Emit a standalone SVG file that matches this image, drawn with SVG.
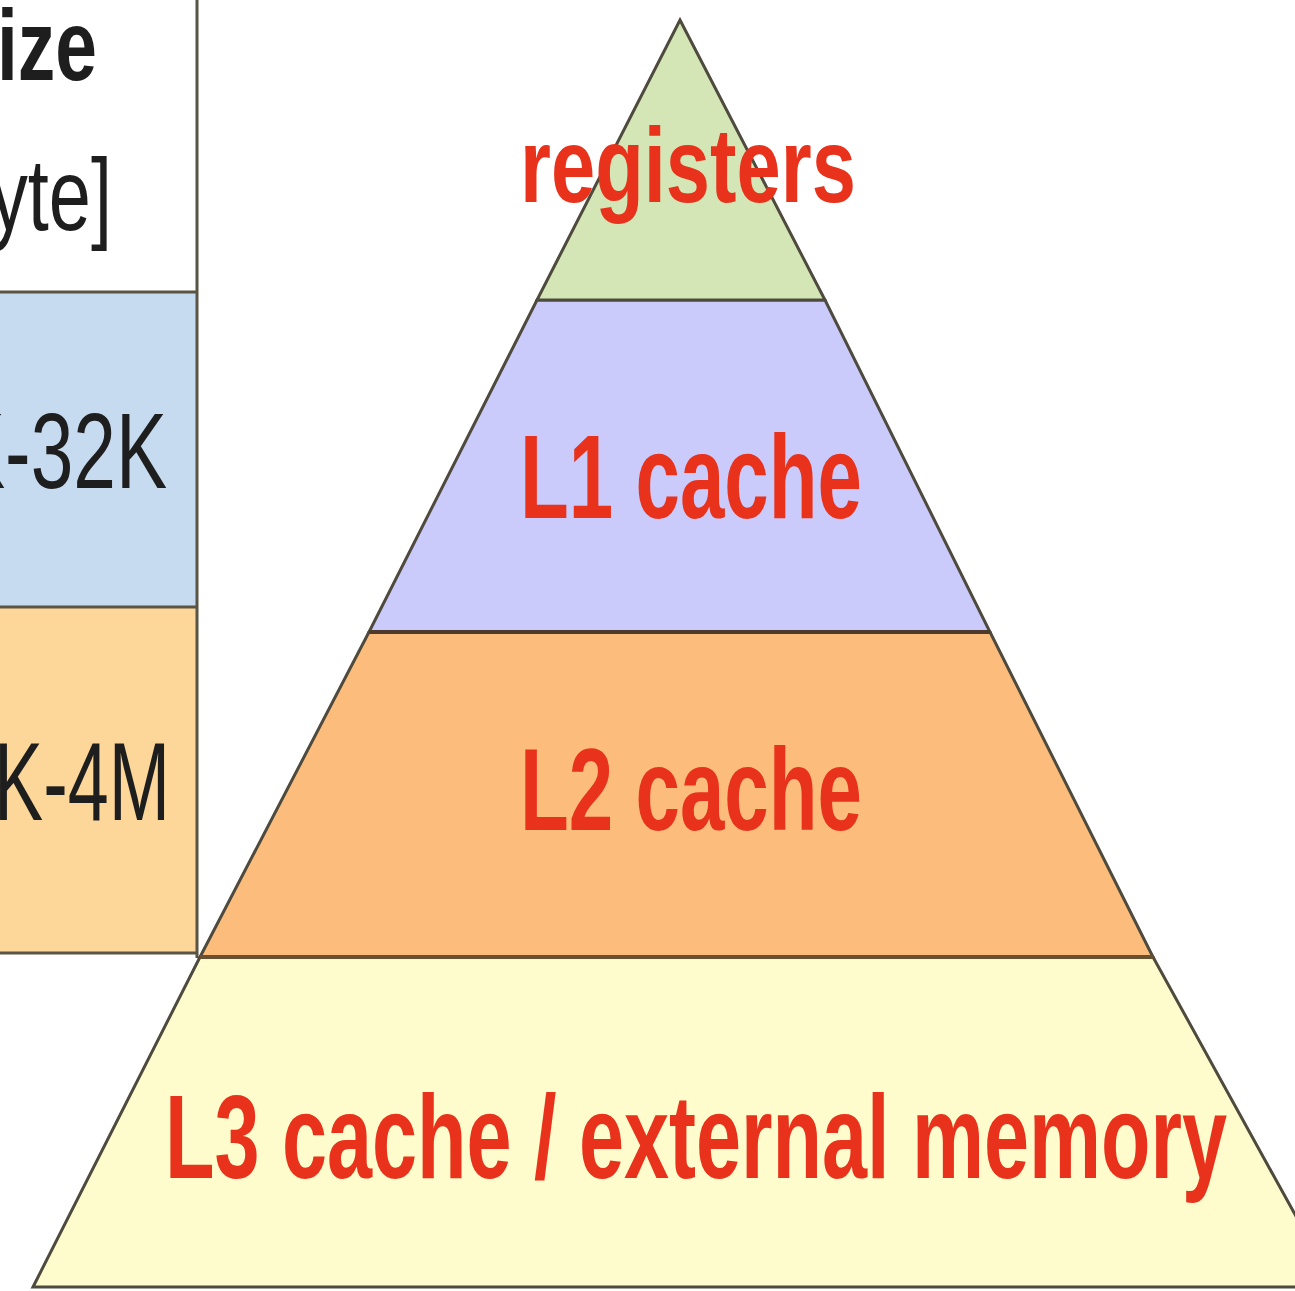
<svg xmlns="http://www.w3.org/2000/svg" width="1295" height="1291" viewBox="0 0 1295 1291">
  <style>
    .layer { stroke: #4e4a3e; stroke-width: 3; stroke-linejoin: miter; }
    .lbl { font-family: "Liberation Sans", Arial, sans-serif; font-weight: bold; fill: #e8321c; }
    .tbl { font-family: "Liberation Sans", Arial, sans-serif; fill: #1e1e1e; }
    .rule { stroke: #5a5444; stroke-width: 3; }
  </style>
  <rect x="0" y="0" width="1295" height="1291" fill="#ffffff"/>

  <g id="table">
    <rect x="0" y="0" width="197" height="292" fill="#ffffff"/>
    <rect x="0" y="292" width="197" height="315" fill="#c6daf0"/>
    <rect x="0" y="607" width="197" height="346" fill="#fdd69a"/>
    <line class="rule" x1="0" y1="292" x2="197" y2="292"/>
    <line class="rule" x1="0" y1="607" x2="197" y2="607"/>
    <line class="rule" x1="0" y1="953" x2="197" y2="953"/>
    <line class="rule" x1="197" y1="0" x2="197" y2="958" stroke="#77736a"/>
    <text class="tbl" x="-3" y="80" font-size="100" font-weight="bold" textLength="100" lengthAdjust="spacingAndGlyphs">ize</text>
    <text class="tbl" x="-10" y="230" font-size="102" textLength="122" lengthAdjust="spacingAndGlyphs">yte]</text>
    <text class="tbl" x="-46" y="488" font-size="108" textLength="213" lengthAdjust="spacingAndGlyphs">K-32K</text>
    <text class="tbl" x="-6" y="820" font-size="112" textLength="176" lengthAdjust="spacingAndGlyphs" fill="#2a1c0a">K-4M</text>
  </g>

  <g id="l3">
    <polygon class="layer" points="200,957 1153,957 1335,1287 33,1287" fill="#fefccc"/>
    <text class="lbl" x="165" y="1178" font-size="118" textLength="1062" lengthAdjust="spacingAndGlyphs">L3 cache / external memory</text>
  </g>

  <g id="l2">
    <polygon class="layer" points="369,632 990,632 1153,957 200,957" fill="#fcbd7c"/>
    <line x1="200" y1="957" x2="1153" y2="957" stroke="#6b5030" stroke-width="4"/>
    <text class="lbl" x="520" y="830" font-size="116" textLength="342" lengthAdjust="spacingAndGlyphs">L2 cache</text>
  </g>

  <g id="l1">
    <polygon class="layer" points="537,300 825,300 990,632 369,632" fill="#cbcbfb"/>
    <line x1="369" y1="632" x2="990" y2="632" stroke="#4e3a2c" stroke-width="4"/>
    <text class="lbl" x="520" y="518" font-size="118" textLength="342" lengthAdjust="spacingAndGlyphs">L1 cache</text>
  </g>

  <g id="registers">
    <polygon class="layer" points="680,20 825,300 537,300" fill="#d4e6b5"/>
    <text class="lbl" x="520" y="202" font-size="106" textLength="336" lengthAdjust="spacingAndGlyphs">registers</text>
  </g>

  <g id="connectors"/>
</svg>
